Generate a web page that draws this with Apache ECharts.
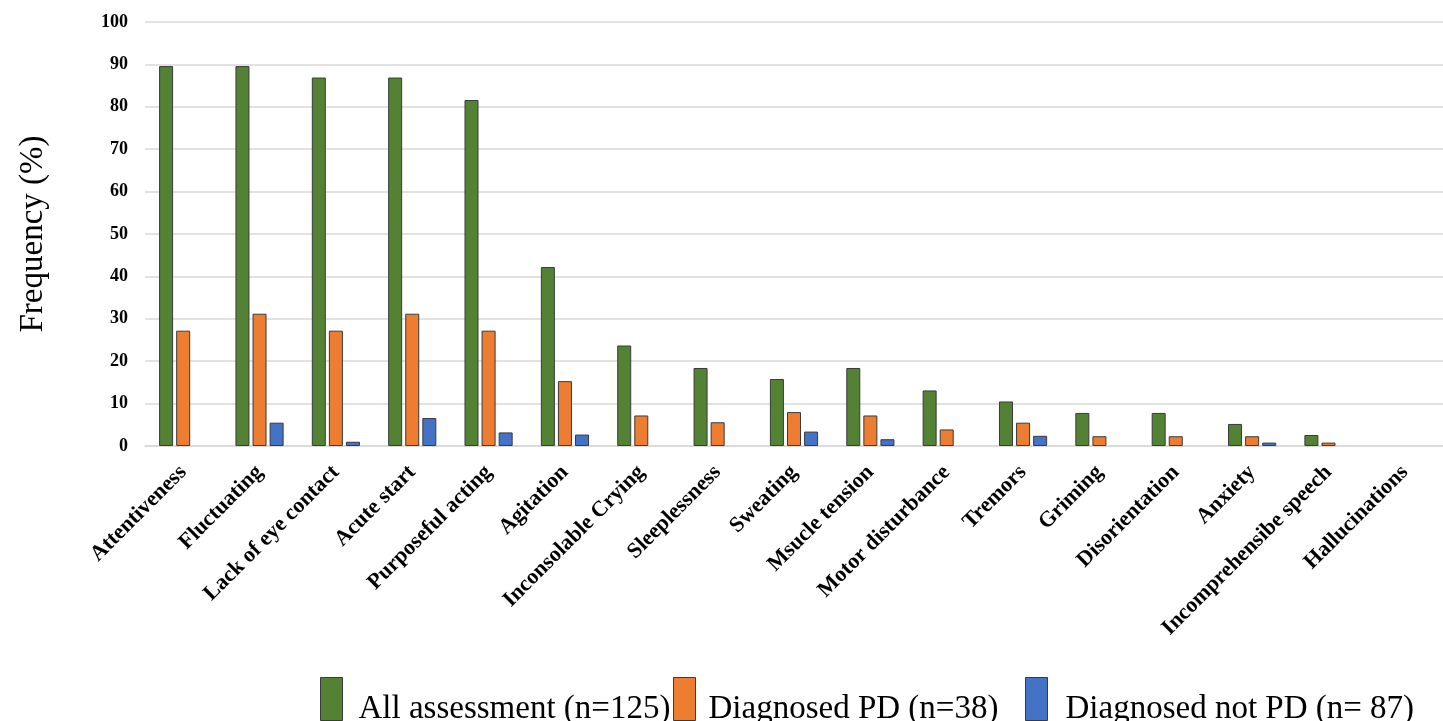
<!DOCTYPE html>
<html>
<head>
<meta charset="utf-8">
<script src="https://cdn.jsdelivr.net/npm/echarts@6/dist/echarts.min.js"></script>
<style>
html,body{margin:0;padding:0;background:#fff;}
#chart{width:1443px;height:721px;}
</style>
</head>
<body>
<div id="chart"></div>
<script>
const categories = ["Attentiveness","Fluctuating","Lack of eye contact","Acute start","Purposeful acting","Agitation","Inconsolable Crying","Sleeplessness","Sweating","Msucle tension","Motor disturbance","Tremors","Griming","Disorientation","Anxiety","Incomprehensibe speech","Hallucinations"];
const allAssessment = [89.6, 89.6, 86.9, 86.9, 81.6, 42.2, 23.7, 18.4, 15.8, 18.4, 13.1, 10.5, 7.8, 7.8, 5.2, 2.6, 0];
const diagnosedPD = [27.2, 31.2, 27.2, 31.2, 27.2, 15.3, 7.2, 5.6, 8.0, 7.2, 3.9, 5.5, 2.3, 2.3, 2.3, 0.8, 0];
const diagnosedNotPD = [0, 5.5, 1.0, 6.6, 3.2, 2.7, 0, 0, 3.4, 1.6, 0, 2.4, 0, 0, 0.8, 0, 0];
const seriesNames = ["All assessment (n=125)", "Diagnosed PD (n=38)", "Diagnosed not PD (n= 87)"];
const yTicks = {min: 0, max: 100, interval: 10};

const chart = echarts.init(document.getElementById('chart'));
const serif = '"Liberation Serif","Times New Roman",serif';
const colors = ['#548235', '#ED7D31', '#4472C4'];
const mk = (name, data, c) => ({
  name, type: 'bar', data: data.map(v => (v === 0 ? null : v)), barWidth: 14, barGap: '22%',
  itemStyle: {color: c, borderColor: '#3a3a3a', borderWidth: 1},
  animation: false
});
const legendLefts = [320, 673, 1025];
const legendPadLeft = [11, 8, 13];
chart.setOption({
  animation: false,
  grid: {left: 145, right: -6, top: 22, bottom: 275, containLabel: false},
  legend: seriesNames.map((n, i) => ({
    data: [n],
    bottom: -5, left: legendLefts[i], padding: 0,
    itemWidth: 22, itemHeight: 43,
    icon: 'rect',
    formatter: '{t|{name}}',
    textStyle: {
      fontFamily: serif, fontSize: 33, color: '#000', padding: [0, 0, 0, legendPadLeft[i]],
      rich: {t: {fontFamily: serif, fontSize: 33, color: '#000', padding: [21, 0, 0, 0]}}
    },
    itemStyle: {borderColor: '#3a3a3a', borderWidth: 1}
  })),
  xAxis: {
    type: 'category', data: categories,
    axisTick: {show: false},
    axisLine: {lineStyle: {color: '#d9d9d9', width: 1.5}},
    axisLabel: {rotate: 45, interval: 0, fontFamily: serif, fontWeight: 'bold', fontSize: 22, color: '#000', margin: 23}
  },
  yAxis: {
    type: 'value', min: yTicks.min, max: yTicks.max, interval: yTicks.interval,
    name: 'Frequency (%)', nameLocation: 'middle', nameGap: 95,
    nameTextStyle: {fontFamily: serif, fontSize: 33, color: '#000'},
    axisLine: {show: false}, axisTick: {show: false},
    axisLabel: {fontFamily: serif, fontWeight: 'bold', fontSize: 18, color: '#000', margin: 17},
    splitLine: {lineStyle: {color: '#d9d9d9', width: 1.5}}
  },
  series: [
    mk(seriesNames[0], allAssessment, colors[0]),
    mk(seriesNames[1], diagnosedPD, colors[1]),
    mk(seriesNames[2], diagnosedNotPD, colors[2])
  ]
});
</script>
</body>
</html>
